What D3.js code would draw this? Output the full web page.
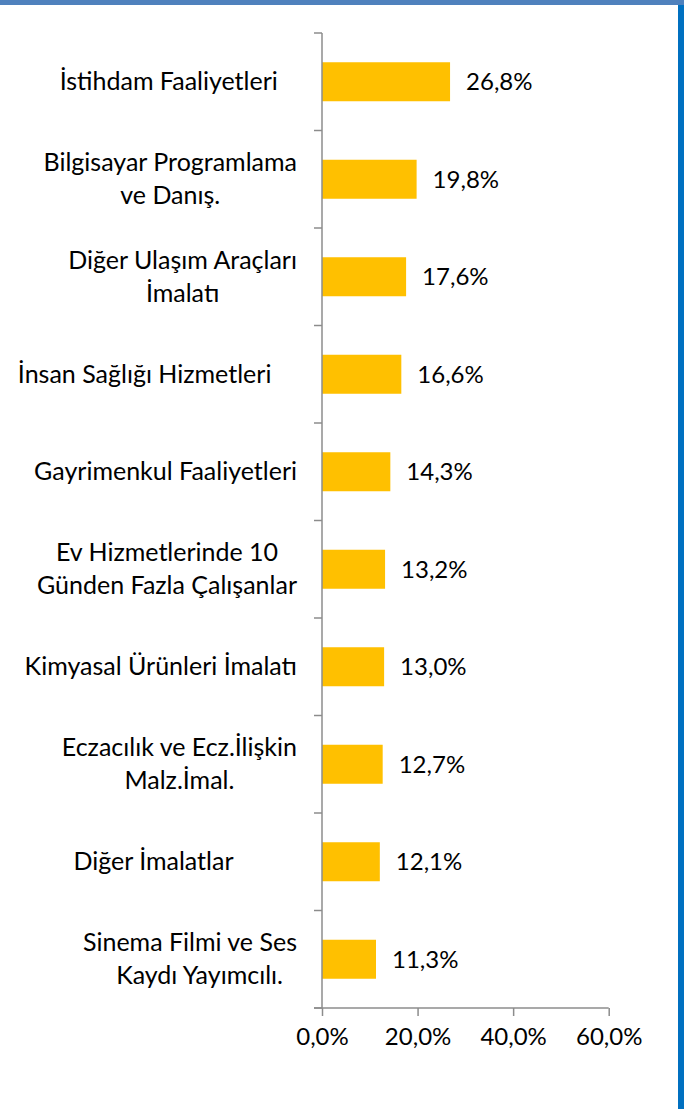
<!DOCTYPE html>
<html>
<head>
<meta charset="utf-8">
<script src="https://cdn.jsdelivr.net/npm/d3@7"></script>
<style>
  html, body { margin: 0; padding: 0; background: #fff; }
  svg { display: block; }
  text { font-family: Lato, "Open Sans", sans-serif; fill: #000; white-space: pre; }
</style>
</head>
<body>
<script>
// ---- data ----
const categories = [
  "İstihdam Faaliyetleri",
  "Bilgisayar Programlama ve Danış.",
  "Diğer Ulaşım Araçları İmalatı",
  "İnsan Sağlığı Hizmetleri",
  "Gayrimenkul Faaliyetleri",
  "Ev Hizmetlerinde 10 Günden Fazla Çalışanlar",
  "Kimyasal Ürünleri İmalatı",
  "Eczacılık ve Ecz.İlişkin Malz.İmal.",
  "Diğer İmalatlar",
  "Sinema Filmi ve Ses Kaydı Yayımcılı."
];
const labelLines = [
  ["İstihdam Faaliyetleri   "],
  ["Bilgisayar Programlama", "ve Danış."],
  ["Diğer Ulaşım Araçları", "İmalatı"],
  ["İnsan Sağlığı Hizmetleri    "],
  ["Gayrimenkul Faaliyetleri"],
  ["Ev Hizmetlerinde 10", "Günden Fazla Çalışanlar"],
  ["Kimyasal Ürünleri İmalatı"],
  ["Eczacılık ve Ecz.İlişkin", "Malz.İmal."],
  ["Diğer İmalatlar          "],
  ["Sinema Filmi ve Ses", "   Kaydı Yayımcılı."]
];
const values = [26.8, 19.8, 17.6, 16.6, 14.3, 13.2, 13.0, 12.7, 12.1, 11.3];
const xTicks = [0, 20, 40, 60];

// ---- layout ----
const W = 684, H = 1109;
const labelFont = 25;
const numFont = 24;
const svg = d3.select("body").append("svg").attr("width", W).attr("height", H);

// frame borders
svg.append("rect").attr("x", 0).attr("y", 0).attr("width", W).attr("height", 5).attr("fill", "#4F81BD");
svg.append("rect").attr("x", 678).attr("y", 5).attr("width", 6).attr("height", H - 5).attr("fill", "#0070C0");

const x = d3.scaleLinear().domain([0, 60]).range([322, 608.7]);
const y = d3.scaleBand().domain(categories).range([33, 1008]).paddingInner(0.6).paddingOuter(0.3);
const step = y.step();

const loc = d3.formatLocale({decimal: ",", thousands: ".", grouping: [3], currency: ["", "%"]});
const fmt = v => loc.format(".1f")(v) + "%";

// bars
svg.append("g").selectAll("rect").data(values).join("rect")
  .attr("x", x(0))
  .attr("y", (d, i) => y(categories[i]))
  .attr("width", d => x(d) - x(0))
  .attr("height", y.bandwidth())
  .attr("fill", "#FFC000");

const axisColor = "#8C8C8C";

// y axis line + ticks at category boundaries
const yAxis = svg.append("g");
yAxis.append("line").attr("x1", x(0)).attr("x2", x(0)).attr("y1", 33).attr("y2", 1008)
  .attr("stroke", axisColor).attr("stroke-width", 1.5);
const bounds = categories.map((c, i) => 33 + i * step);
bounds.push(1008);
yAxis.selectAll("line.tk").data(bounds).join("line").attr("class", "tk")
  .attr("x1", x(0) - 8).attr("x2", x(0)).attr("y1", d => d).attr("y2", d => d)
  .attr("stroke", axisColor).attr("stroke-width", 1.5);

// x axis
const xAxisG = svg.append("g").attr("transform", "translate(0,1008)")
  .call(d3.axisBottom(x).tickValues(xTicks).tickSize(8).tickSizeOuter(0).tickPadding(12).tickFormat(fmt));
xAxisG.select(".domain").attr("stroke", axisColor).attr("stroke-width", 1.5)
  .attr("d", `M${x(0) - 8},0H${x(60)}`);
xAxisG.selectAll(".tick line").attr("stroke", axisColor).attr("stroke-width", 1.5);
xAxisG.selectAll(".tick text").attr("font-size", numFont).attr("font-family", "Lato, sans-serif").attr("fill", "#000");

// data labels
svg.append("g").selectAll("text").data(values).join("text")
  .attr("x", d => x(d) + 16)
  .attr("y", (d, i) => y(categories[i]) + y.bandwidth() / 2 + 8.5)
  .attr("font-size", numFont)
  .text(d => fmt(d));

// category labels
const labelRight = 297;
const lineH = 33;
categories.forEach((c, i) => {
  const lines = labelLines[i];
  const g = svg.append("g");
  const cy = y(c) + y.bandwidth() / 2;
  const texts = lines.map((ln, j) => g.append("text")
    .attr("font-size", labelFont)
    .attr("y", cy + 8.5 + (j - (lines.length - 1) / 2) * lineH)
    .text(ln));
  const maxW = d3.max(texts, t => t.node().getComputedTextLength());
  const center = labelRight - maxW / 2;
  texts.forEach(t => t.attr("x", center).attr("text-anchor", "middle"));
});
</script>
</body>
</html>
